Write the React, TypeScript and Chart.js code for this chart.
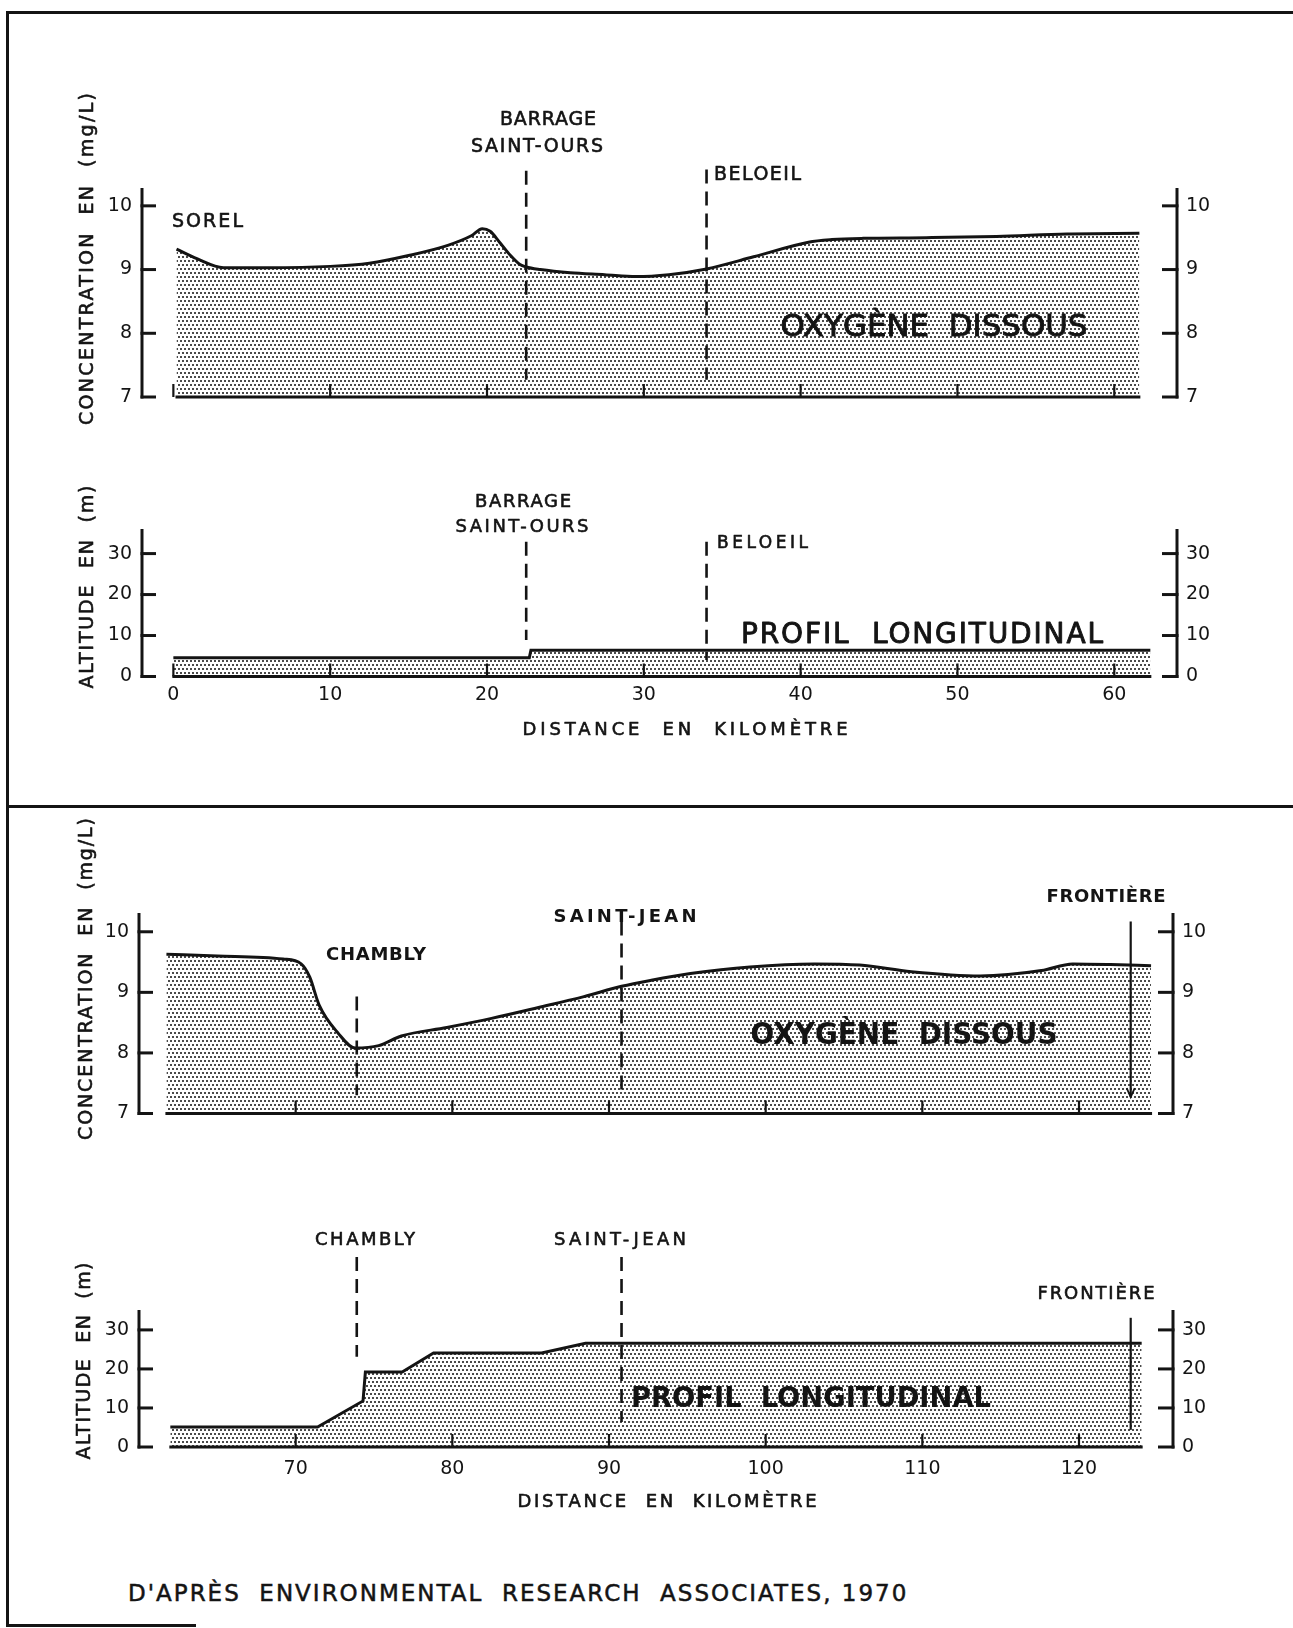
import React, { useEffect, useRef } from 'react';
import { Chart, registerables } from 'chart.js';

Chart.register(...registerables);

// ---------------- data ----------------
// Upper river section (Sorel -> Beloeil region), distance in km
const kmOxyTop = [0.2, 1.5, 3.2, 6, 10, 12.5, 15, 17.5, 19, 19.7, 20.2, 20.8, 21.5, 22.1, 22.5, 23.4, 25.3, 27.5, 29.5, 31.6, 34, 37, 40.5, 42, 44, 48, 52.5, 57, 61.6];
const oxyTop = [9.32, 9.17, 9.03, 9.03, 9.05, 9.1, 9.22, 9.38, 9.53, 9.64, 9.6, 9.43, 9.22, 9.08, 9.04, 9.0, 8.95, 8.92, 8.89, 8.92, 9.01, 9.2, 9.43, 9.47, 9.49, 9.5, 9.52, 9.56, 9.57];
const kmAltTop = [0, 22.7, 22.8, 62.3];
const altTop = [4.6, 4.6, 6.4, 6.4];

// Lower river section (Chambly -> Frontière)
const kmOxyBottom = [61.75, 65, 69.2, 70.35, 70.9, 71.5, 72.7, 73.8, 75.3, 76.75, 79.65, 82.5, 85.5, 88.4, 90.8, 92.7, 95.2, 99, 103.1, 106, 109.3, 113.7, 117.6, 119.6, 122, 124.6];
const oxyBottom = [9.63, 9.6, 9.55, 9.47, 9.25, 8.79, 8.33, 8.08, 8.12, 8.28, 8.42, 8.57, 8.75, 8.93, 9.1, 9.2, 9.31, 9.42, 9.47, 9.45, 9.34, 9.27, 9.36, 9.47, 9.46, 9.44];
const kmAltBottom = [62, 71.4, 74.3, 74.45, 76.8, 78.8, 85.7, 88.5, 124];
const altBottom = [5.1, 5.1, 11.8, 19.2, 19.2, 24.1, 24.1, 26.6, 26.6];

// tick values
const oxyTicks = [7, 8, 9, 10];
const altTicks = [0, 10, 20, 30];
const kmTicksTop = [0, 10, 20, 30, 40, 50, 60];
const kmTicksBottom = [70, 80, 90, 100, 110, 120];

// landmarks (km)
const siteKmTop = [22.5, 34.0]; // Barrage Saint-Ours, Beloeil
const siteKmBottom = [73.9, 90.8, 123.3]; // Chambly, Saint-Jean, Frontière

// ---------------- styling / layout ----------------
const W = 1293;
const H = 1628;
const INK = '#141414';
const FAMILY = '"DejaVu Sans", "Liberation Sans", sans-serif';
const Y_AXIS_W = 70;

type TextSpec = { t: string; x: number; y: number; size: number; w: number; align: 'c' | 'l'; bold?: boolean };
type MarkSpec = { km: number; from: number; to: number; kind: 'dash' | 'solid' | 'arrow' };
type Panel = {
  id: string;
  top: number;
  height: number;
  area: { left: number; right: number; top: number; bottom: number };
  xAxisH: number;
  xMin: number;
  xMax: number;
  xTicks: number[];
  xLabels: boolean;
  xLabelPad: number;
  yMin: number;
  yMax: number;
  yTicks: number[];
  km: number[];
  vals: number[];
  smooth: boolean;
  marks: MarkSpec[];
  texts: TextSpec[];
  title: { t: string; x: number; cy: number; len: number; size: number };
};

const PANELS: Panel[] = [
  {
    id: 'oxyTop',
    top: 20,
    height: 420,
    area: { left: 142, right: 1177, top: 188, bottom: 397 },
    xAxisH: 40,
    xMin: -2,
    xMax: 64,
    xTicks: kmTicksTop,
    xLabels: false,
    xLabelPad: 8,
    yMin: 7,
    yMax: 10.28,
    yTicks: oxyTicks,
    km: kmOxyTop,
    vals: oxyTop,
    smooth: true,
    marks: [
      { km: siteKmTop[0], from: 10.55, to: 7.27, kind: 'dash' },
      { km: siteKmTop[1], from: 10.57, to: 7.27, kind: 'dash' },
    ],
    texts: [
      { t: 'SOREL', x: 172, y: 220, size: 19, w: 71, align: 'l' },
      { t: 'BARRAGE', x: 548, y: 118, size: 19, w: 96, align: 'c' },
      { t: 'SAINT-OURS', x: 537, y: 145, size: 19, w: 132, align: 'c' },
      { t: 'BELOEIL', x: 714, y: 173, size: 19, w: 87, align: 'l' },
      { t: 'OXYGÈNE  DISSOUS', x: 934, y: 325, size: 31, w: 307, align: 'c' },
    ],
    title: { t: 'CONCENTRATION  EN  (mg/L)', x: 86, cy: 259, len: 332, size: 19 },
  },
  {
    id: 'altTop',
    top: 440,
    height: 350,
    area: { left: 142, right: 1177, top: 529, bottom: 676.5 },
    xAxisH: 50,
    xMin: -2,
    xMax: 64,
    xTicks: kmTicksTop,
    xLabels: true,
    xLabelPad: 7,
    yMin: 0,
    yMax: 36,
    yTicks: altTicks,
    km: kmAltTop,
    vals: altTop,
    smooth: false,
    marks: [
      { km: siteKmTop[0], from: 32.9, to: 8.9, kind: 'dash' },
      { km: siteKmTop[1], from: 32.9, to: 4.0, kind: 'dash' },
    ],
    texts: [
      { t: 'BARRAGE', x: 523, y: 500, size: 18, w: 96, align: 'c' },
      { t: 'SAINT-OURS', x: 522, y: 525, size: 18, w: 133, align: 'c' },
      { t: 'BELOEIL', x: 717, y: 542, size: 17, w: 91, align: 'l' },
      { t: 'PROFIL  LONGITUDINAL', x: 922, y: 633, size: 28, w: 362, align: 'c' },
      { t: 'DISTANCE  EN  KILOMÈTRE', x: 685, y: 728, size: 18, w: 325, align: 'c' },
    ],
    title: { t: 'ALTITUDE  EN  (m)', x: 86, cy: 587, len: 203, size: 19 },
  },
  {
    id: 'oxyBottom',
    top: 812,
    height: 353,
    area: { left: 139, right: 1173, top: 913, bottom: 1113.5 },
    xAxisH: 40,
    xMin: 60,
    xMax: 126,
    xTicks: kmTicksBottom,
    xLabels: false,
    xLabelPad: 8,
    yMin: 7,
    yMax: 10.31,
    yTicks: oxyTicks,
    km: kmOxyBottom,
    vals: oxyBottom,
    smooth: true,
    marks: [
      { km: siteKmBottom[0], from: 8.93, to: 7.3, kind: 'dash' },
      { km: siteKmBottom[1], from: 10.17, to: 7.3, kind: 'dash' },
      { km: siteKmBottom[2], from: 10.17, to: 7.27, kind: 'arrow' },
    ],
    texts: [
      { t: 'CHAMBLY', x: 376, y: 953, size: 18, w: 100, align: 'c', bold: true },
      { t: 'SAINT-JEAN', x: 625, y: 915, size: 18, w: 143, align: 'c', bold: true },
      { t: 'FRONTIÈRE', x: 1106, y: 895, size: 18, w: 119, align: 'c', bold: true },
      { t: 'OXYGÈNE  DISSOUS', x: 904, y: 1033, size: 31, w: 307, align: 'c', bold: true },
    ],
    title: { t: 'CONCENTRATION  EN  (mg/L)', x: 85, cy: 979, len: 322, size: 19 },
  },
  {
    id: 'altBottom',
    top: 1165,
    height: 395,
    area: { left: 139, right: 1173, top: 1310, bottom: 1447 },
    xAxisH: 50,
    xMin: 60,
    xMax: 126,
    xTicks: kmTicksBottom,
    xLabels: true,
    xLabelPad: 11,
    yMin: 0,
    yMax: 35.1,
    yTicks: altTicks,
    km: kmAltBottom,
    vals: altBottom,
    smooth: false,
    marks: [
      { km: siteKmBottom[0], from: 48.7, to: 23.1, kind: 'dash' },
      { km: siteKmBottom[1], from: 48.7, to: 6.4, kind: 'dash' },
      { km: siteKmBottom[2], from: 33.1, to: 4.4, kind: 'solid' },
    ],
    texts: [
      { t: 'CHAMBLY', x: 365, y: 1238, size: 18, w: 100, align: 'c' },
      { t: 'SAINT-JEAN', x: 620, y: 1238, size: 18, w: 132, align: 'c' },
      { t: 'FRONTIÈRE', x: 1096, y: 1292, size: 18, w: 117, align: 'c' },
      { t: 'PROFIL  LONGITUDINAL', x: 811, y: 1397, size: 28, w: 360, align: 'c', bold: true },
      { t: 'DISTANCE  EN  KILOMÈTRE', x: 667, y: 1500, size: 18, w: 299, align: 'c' },
    ],
    title: { t: 'ALTITUDE  EN  (m)', x: 83, cy: 1361, len: 197, size: 19 },
  },
];

function seg(ctx: CanvasRenderingContext2D, x0: number, y0: number, x1: number, y1: number) {
  ctx.beginPath();
  ctx.moveTo(x0, y0);
  ctx.lineTo(x1, y1);
  ctx.stroke();
}

// draws text whose cap-height centre sits on midY, stretched to width w
function drawFitted(ctx: CanvasRenderingContext2D, text: string, left: number, midY: number, size: number, w: number, bold: boolean) {
  ctx.save();
  ctx.font = `${bold ? 'bold ' : ''}${size}px ${FAMILY}`;
  ctx.textAlign = 'left';
  ctx.textBaseline = 'alphabetic';
  ctx.fillStyle = INK;
  ctx.strokeStyle = INK;
  ctx.setLineDash([]);
  const n = Array.from(text).length;
  const base = ctx.measureText(text).width;
  const by = midY + size * 0.364;
  let sx = 1;
  if (base > w) {
    sx = w / base;
  } else if (n > 1 && 'letterSpacing' in ctx) {
    (ctx as any).letterSpacing = `${(w - base) / (n - 1)}px`;
  }
  ctx.translate(left, by);
  ctx.scale(sx, 1);
  ctx.fillText(text, 0, 0);
  if (!bold) {
    ctx.lineWidth = size > 24 ? 0.9 : 0.6;
    ctx.lineJoin = 'round';
    ctx.strokeText(text, 0, 0);
  }
  ctx.restore();
}

function decorPlugin(p: Panel) {
  return {
    id: 'decor-' + p.id,
    afterDraw(chart: any) {
      const ctx: CanvasRenderingContext2D = chart.ctx;
      const a = chart.chartArea;
      const xs = chart.scales.x;
      const ys = chart.scales.y;
      const off = p.top;
      ctx.save();
      ctx.strokeStyle = INK;
      ctx.fillStyle = INK;
      ctx.lineCap = 'butt';

      // vertical axes with inward ticks
      ctx.lineWidth = 3;
      seg(ctx, a.left, a.top, a.left, a.bottom + 1.5);
      seg(ctx, a.right, a.top, a.right, a.bottom + 1.5);
      for (const v of p.yTicks) {
        const py = ys.getPixelForValue(v);
        seg(ctx, a.left - 1.5, py, a.left + 14, py);
        seg(ctx, a.right - 15, py, a.right + 1.5, py);
      }
      // base line along the data extent
      const bx0 = xs.getPixelForValue(p.km[0]);
      const bx1 = xs.getPixelForValue(p.km[p.km.length - 1]);
      seg(ctx, bx0 - 1, a.bottom, bx1 + 1, a.bottom);
      // distance ticks pointing up
      ctx.lineWidth = 2.2;
      for (const v of p.xTicks) {
        const px = xs.getPixelForValue(v);
        seg(ctx, px, a.bottom, px, a.bottom - 13);
      }

      // landmark lines
      for (const m of p.marks) {
        const px = xs.getPixelForValue(m.km);
        const y0 = ys.getPixelForValue(m.from);
        const y1 = ys.getPixelForValue(m.to);
        ctx.save();
        ctx.lineWidth = m.kind === 'dash' ? 2.6 : 2.2;
        if (m.kind === 'dash') ctx.setLineDash([14, 8]);
        seg(ctx, px, y0, px, y1);
        ctx.restore();
        if (m.kind === 'arrow') {
          ctx.save();
          ctx.lineWidth = 1.8;
          ctx.beginPath();
          ctx.moveTo(px - 4, y1 - 9);
          ctx.lineTo(px, y1);
          ctx.lineTo(px + 4, y1 - 9);
          ctx.stroke();
          ctx.restore();
        }
      }

      // annotations
      for (const t of p.texts) {
        const left = t.align === 'c' ? t.x - t.w / 2 : t.x;
        drawFitted(ctx, t.t, left, t.y - off, t.size, t.w, !!t.bold);
      }

      // rotated axis title
      ctx.save();
      ctx.translate(p.title.x, p.title.cy - off);
      ctx.rotate(-Math.PI / 2);
      drawFitted(ctx, p.title.t, -p.title.len / 2, 0, p.title.size, p.title.len, false);
      ctx.restore();

      ctx.restore();
    },
  };
}

function makePattern(): CanvasPattern | string {
  const c = document.createElement('canvas');
  c.width = 4;
  c.height = 8;
  const g = c.getContext('2d');
  if (!g) return '#d6d6d6';
  g.fillStyle = '#4a4a4a';
  g.fillRect(0, 0, 2, 2);
  g.fillRect(2, 4, 2, 2);
  return g.createPattern(c, 'repeat') || '#d6d6d6';
}

function buildChart(canvas: HTMLCanvasElement, p: Panel, fillStyle: CanvasPattern | string) {
  const tickFont = { family: FAMILY, size: 19 };
  const yScale = (position: 'left' | 'right') => ({
    type: 'linear' as const,
    position,
    min: p.yMin,
    max: p.yMax,
    afterFit: (s: any) => {
      s.width = Y_AXIS_W;
    },
    afterBuildTicks: (s: any) => {
      s.ticks = p.yTicks.map((v) => ({ value: v }));
    },
    grid: { display: false, drawTicks: false },
    border: { display: false },
    ticks: { padding: position === 'left' ? 10 : 9, color: INK, font: tickFont },
  });

  return new Chart(canvas, {
    type: 'line',
    data: {
      datasets: [
        {
          data: p.km.map((k, i) => ({ x: k, y: p.vals[i] })),
          borderColor: INK,
          borderWidth: 3,
          backgroundColor: fillStyle as any,
          fill: 'start',
          pointRadius: 0,
          tension: p.smooth ? 0.4 : 0,
          cubicInterpolationMode: p.smooth ? 'monotone' : 'default',
          xAxisID: 'x',
          yAxisID: 'y',
        },
      ],
    },
    options: {
      responsive: false,
      maintainAspectRatio: false,
      animation: false,
      devicePixelRatio: 1,
      events: [],
      layout: {
        autoPadding: false,
        padding: {
          left: p.area.left - Y_AXIS_W,
          right: W - p.area.right - Y_AXIS_W,
          top: p.area.top - p.top,
          bottom: p.top + p.height - p.area.bottom - p.xAxisH,
        },
      },
      plugins: { legend: { display: false }, tooltip: { enabled: false }, title: { display: false } },
      scales: {
        x: {
          type: 'linear',
          position: 'bottom',
          min: p.xMin,
          max: p.xMax,
          afterFit: (s: any) => {
            s.height = p.xAxisH;
          },
          afterBuildTicks: (s: any) => {
            s.ticks = p.xTicks.map((v) => ({ value: v }));
          },
          grid: { display: false, drawTicks: false },
          border: { display: false },
          ticks: {
            display: p.xLabels,
            padding: p.xLabelPad,
            autoSkip: false,
            maxRotation: 0,
            minRotation: 0,
            color: INK,
            font: tickFont,
          },
        },
        y: yScale('left'),
        yR: yScale('right'),
      } as any,
    },
    plugins: [decorPlugin(p)],
  });
}

export default function App() {
  const refs = useRef<(HTMLCanvasElement | null)[]>([]);

  useEffect(() => {
    const pattern = makePattern();
    const charts = PANELS.map((p, i) => buildChart(refs.current[i] as HTMLCanvasElement, p, pattern));
    return () => {
      charts.forEach((c) => c.destroy());
    };
  }, []);

  const rule = (left: number, top: number, width: number, height: number) => ({
    position: 'absolute' as const,
    left,
    top,
    width,
    height,
    background: INK,
  });

  return (
    <div style={{ position: 'absolute', left: 0, top: 0, width: W, height: H, overflow: 'hidden', background: '#ffffff' }}>
      <div style={rule(6, 11, W - 6, 3)} />
      <div style={rule(6, 11, 3, H - 11 - 1)} />
      <div style={rule(6, 805, W - 6, 3)} />
      <div style={rule(6, 1624, 190, 3)} />
      {PANELS.map((p, i) => (
        <canvas
          key={p.id}
          ref={(el) => {
            refs.current[i] = el;
          }}
          width={W}
          height={p.height}
          style={{ position: 'absolute', left: 0, top: p.top, width: W, height: p.height }}
        />
      ))}
      <div
        style={{
          position: 'absolute',
          left: 128,
          top: 1582,
          fontFamily: FAMILY,
          fontSize: 23,
          lineHeight: '23px',
          letterSpacing: '2px',
          whiteSpace: 'pre',
          color: INK,
          WebkitTextStroke: '0.5px ' + INK,
        }}
      >
        {"D'APRÈS  ENVIRONMENTAL  RESEARCH  ASSOCIATES, 1970"}
      </div>
    </div>
  );
}
